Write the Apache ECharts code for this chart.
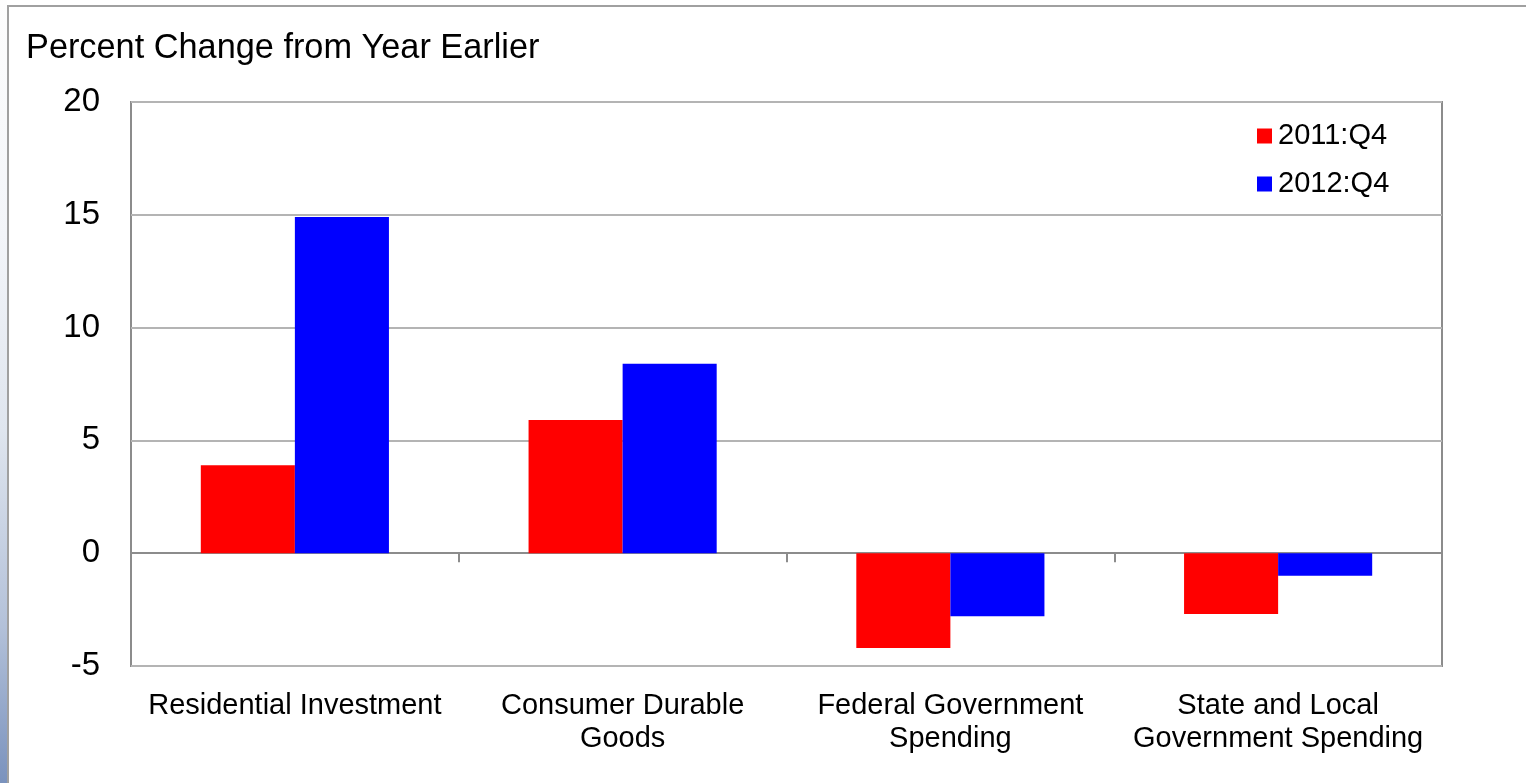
<!DOCTYPE html>
<html>
<head>
<meta charset="utf-8">
<script src="https://cdn.jsdelivr.net/npm/echarts@6/dist/echarts.min.js"></script>
<style>
  html, body { margin: 0; padding: 0; background: #ffffff; }
  #strip { position: absolute; left: 0; top: 0; width: 7px; height: 783px;
    background: linear-gradient(to bottom, #fdfdfd 0%, #f3f5f9 30%, #dfe5ee 55%, #b3c1d9 80%, #7a92bd 100%); }
  #frame { position: absolute; left: 7px; top: 5px; width: 1519px; height: 778px;
    border-top: 2px solid #a0a0a0; border-left: 2px solid #a0a0a0; box-sizing: border-box; }
  #chart { position: absolute; left: 0; top: 0; width: 1526px; height: 783px; }
</style>
</head>
<body>
<div id="strip"></div>
<div id="frame"></div>
<div id="chart"></div>
<script>
const categories = ['Residential Investment', 'Consumer Durable\nGoods', 'Federal Government\nSpending', 'State and Local\nGovernment Spending'];
const seriesNames = ['2011:Q4', '2012:Q4'];
const values2011 = [3.9, 5.9, -4.2, -2.7];
const values2012 = [14.9, 8.4, -2.8, -1.0];
const yTicks = { min: -5, max: 20, interval: 5 };
const titleText = 'Percent Change from Year Earlier';

const chart = echarts.init(document.getElementById('chart'), null, { renderer: 'canvas' });
const font = 'Liberation Sans, Arial, sans-serif';
chart.setOption({
  backgroundColor: 'transparent',
  animation: false,
  title: {
    text: titleText, left: 21, top: 27,
    textStyle: { fontFamily: font, fontSize: 34.3, fontWeight: 'normal', color: '#000' }
  },
  legend: {
    orient: 'vertical', left: 1252, top: 116,
    itemWidth: 15, itemHeight: 15, itemGap: 18, icon: 'rect',
    textStyle: { fontFamily: font, fontSize: 29, color: '#000', lineHeight: 30, padding: [0, 0, 0, 1] },
    data: seriesNames
  },
  grid: {
    left: 131, right: 84, top: 102, bottom: 117,
    show: true, borderColor: '#8c8c8c', borderWidth: 2, backgroundColor: 'transparent'
  },
  xAxis: [
    {
      type: 'category', data: categories, position: 'bottom',
      axisLine: { show: false, onZero: false }, axisTick: { show: false },
      axisLabel: { fontFamily: font, fontSize: 29, color: '#000', lineHeight: 33, margin: 23, interval: 0 }
    },
    {
      type: 'category', data: categories, position: 'bottom',
      axisLine: { show: true, onZero: true, lineStyle: { color: '#8c8c8c', width: 2 } },
      axisTick: { show: true, length: 9, inside: false, lineStyle: { color: '#8c8c8c', width: 2 } },
      axisLabel: { show: false }
    }
  ],
  yAxis: {
    type: 'value', min: yTicks.min, max: yTicks.max, interval: yTicks.interval,
    axisLine: { show: false }, axisTick: { show: false },
    axisLabel: { fontFamily: font, fontSize: 33, color: '#000', margin: 31, padding: [7, 0, 0, 0] },
    splitLine: { lineStyle: { color: '#b4b4b4', width: 2 } }
  },
  series: [
    { name: seriesNames[0], type: 'bar', xAxisIndex: 0, data: values2011,
      itemStyle: { color: '#ff0000' }, barGap: '0%', barCategoryGap: '42.6%' },
    { name: seriesNames[1], type: 'bar', xAxisIndex: 0, data: values2012,
      itemStyle: { color: '#0000ff' }, barGap: '0%', barCategoryGap: '42.6%' }
  ]
});
</script>
</body>
</html>
